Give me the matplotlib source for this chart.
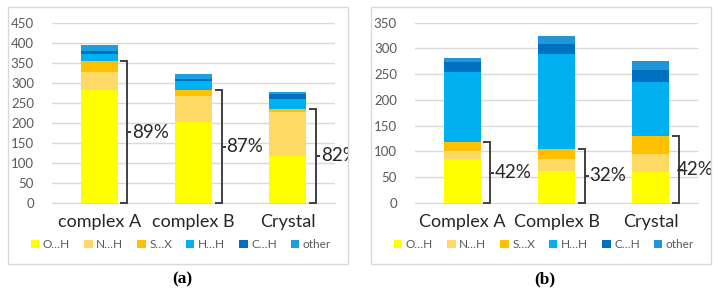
import numpy as np
import matplotlib
matplotlib.use('Agg')
import matplotlib.pyplot as plt
from matplotlib.patches import Rectangle

plt.rcParams['font.family'] = ['Lato', 'DejaVu Sans']

# contact types, stacked from the bottom
contacts = ['O…H', 'N…H', 'S…X', 'H…H', 'C…H', 'other']

# panel (a)
cats_a = ['complex A', 'complex B', 'Crystal']
oh_a = [282, 203, 118]
nh_a = [45, 65, 109]
sx_a = [27, 13, 8]
hh_a = [18, 24, 25]
ch_a = [8, 5, 12]
other_a = [15, 12, 6]
pct_a = ['89%', '87%', '82%']

# panel (b)
cats_b = ['Complex A', 'Complex B', 'Crystal']
oh_b = [85, 63, 61]
nh_b = [16, 22, 34]
sx_b = [17, 20, 35]
hh_b = [137, 184, 104]
ch_b = [18, 20, 25]
other_b = [9, 16, 17]
pct_b = ['42%', '32%', '42%']

colors_a = ['#FFFF00', '#FFD966', '#FFC000', '#00B0F0', '#0070C0', '#1C9FE0']
colors_b = ['#FFFF00', '#FFD966', '#FFC000', '#00B0F0', '#0070C0', '#2196D6']

W, H = 718, 294
fig = plt.figure(figsize=(W / 100, H / 100), dpi=100)


def px_axes(left, right, top, bottom):
    return fig.add_axes([left / W, 1 - bottom / H, (right - left) / W, (bottom - top) / H])


def panel(box, ax_px, cats, series, colors, pct, ymax, label, label_x, last_shift=0.0):
    x0, y0, x1, y1 = box
    rect = Rectangle((x0 / W, 1 - y1 / H), (x1 - x0) / W, (y1 - y0) / H,
                     transform=fig.transFigure, fill=False, edgecolor='#d9d9d9', lw=1)
    fig.patches.append(rect)

    ax = px_axes(*ax_px)
    x = np.arange(len(cats))
    bw = 0.39
    bottom = np.zeros(len(cats))
    for name, vals, c in zip(contacts, series, colors):
        ax.bar(x, vals, bw, bottom=bottom, color=c, label=name, zorder=3)
        bottom = bottom + np.array(vals)

    ax.set_xlim(-0.5, len(cats) - 0.5)
    ax.set_ylim(0, ymax)
    ax.set_yticks(np.arange(0, ymax + 1, 50))
    ax.yaxis.grid(True, color='#d9d9d9', lw=1, zorder=0)
    for s in ['left', 'right', 'top']:
        ax.spines[s].set_visible(False)
    ax.spines['bottom'].set_color('#d9d9d9')
    ax.tick_params(axis='y', length=0, labelsize=9.5, labelcolor='#595959', pad=13)
    ax.tick_params(axis='x', length=0, labelsize=13, labelcolor='#262626', pad=8)
    ax.set_xticks(x)
    ax.set_xticklabels(cats)

    # brackets around the first three contact types
    base3 = np.array(series[0]) + np.array(series[1]) + np.array(series[2])
    for i, top in enumerate(base3):
        xa = i + bw / 2 + 0.04
        xv = i + bw / 2 + 0.105
        xm = i + bw / 2 + 0.145
        mid = top / 2
        ax.plot([xa, xv, xv, xm, xv, xv, xa], [top, top, mid, mid, mid, 0, 0],
                color='#404040', lw=1.4, clip_on=False, zorder=4, solid_joinstyle='miter')
        xt = xm + 0.01 - (last_shift if i == len(base3) - 1 else 0.0)
        t = ax.text(xt, mid, pct[i], fontsize=13.5, color='#262626',
                    va='center', ha='left', clip_on=True, zorder=5)
        t.set_clip_path(rect)

    ax.legend(loc='center', bbox_to_anchor=(0.456, -0.23), ncol=6, frameon=False,
              fontsize=8.5, handlelength=0.7, handleheight=0.7, handletextpad=0.3,
              columnspacing=1.2, labelcolor='#595959', borderaxespad=0)

    fig.text(label_x / W, 1 - 279 / H, label, fontsize=12.5, family='Liberation Serif',
             fontweight='bold', ha='center', va='center')
    return ax


panel((8, 7, 348, 264), (52, 335, 22.7, 203), cats_a,
      [oh_a, nh_a, sx_a, hh_a, ch_a, other_a], colors_a, pct_a, 450, '(a)', 182)
panel((371, 7, 711, 264), (415, 698, 22.7, 203), cats_b,
      [oh_b, nh_b, sx_b, hh_b, ch_b, other_b], colors_b, pct_b, 350, '(b)', 545,
      last_shift=0.07)

fig.savefig('out.png', dpi=100)
